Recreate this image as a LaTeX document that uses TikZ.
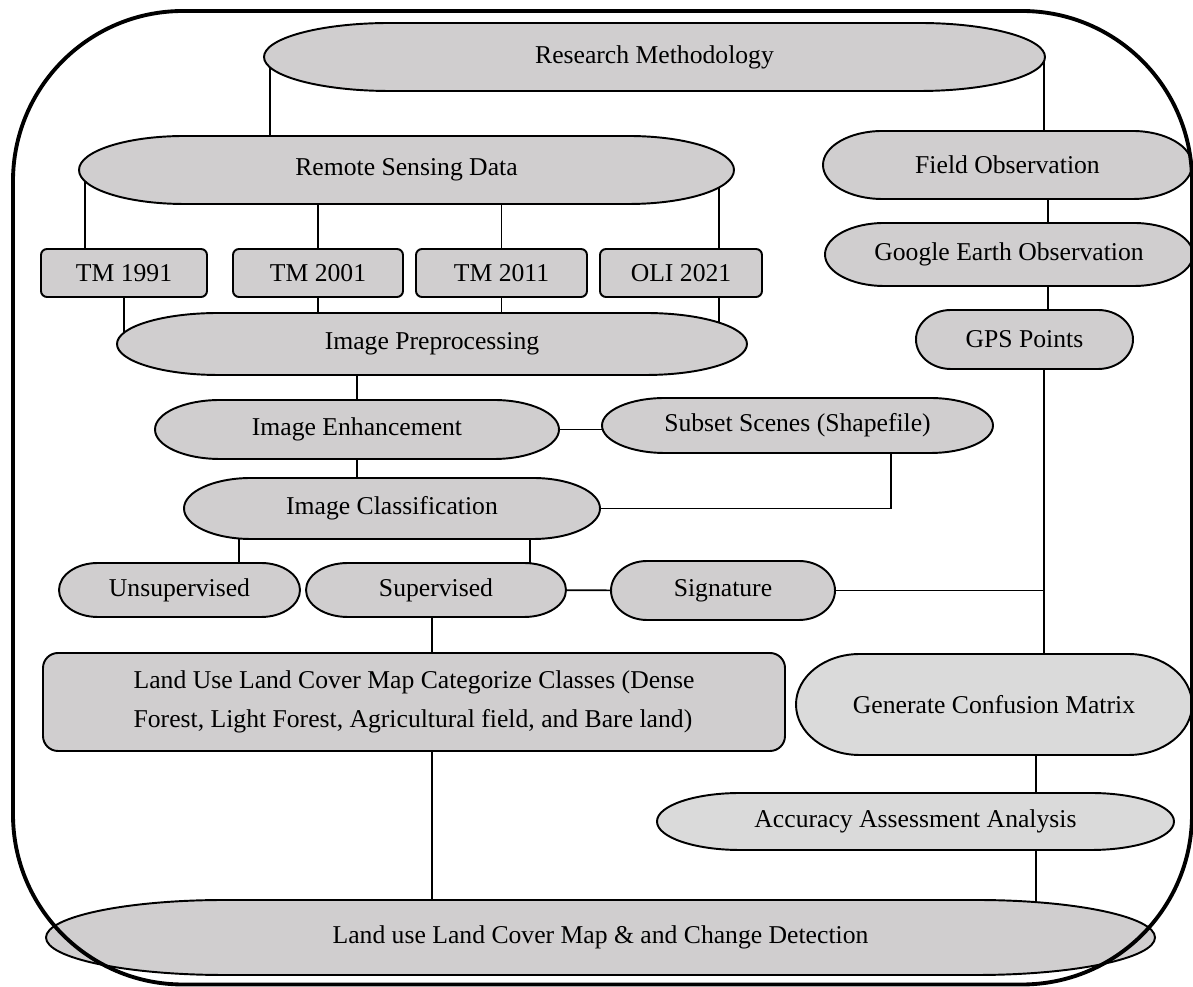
\documentclass[tikz,border=0pt]{standalone}
\usepackage{fontspec}
\setmainfont{Liberation Serif}
\usetikzlibrary{calc}

\pgfdeclarelayer{wires}
\pgfdeclarelayer{background}
\pgfsetlayers{wires,background,main}

\definecolor{boxgray}{RGB}{208,206,207}
\definecolor{boxlight}{RGB}{218,218,218}

% terminator outline round a named node: #1 node, #2 fill
\newcommand{\termshape}[2]{%
  \path[draw=black, line width=1.1pt, fill=#2]
    let \p1=(#1.south west), \p2=(#1.north east),
        \n1={0.161*(\x2-\x1)}, \n2={0.5*(\y2-\y1)} in
    ({\x1+\n1},\y2) -- ({\x2-\n1},\y2)
    arc[start angle=90, end angle=-90, x radius=\n1, y radius=\n2]
    -- ({\x1+\n1},\y1)
    arc[start angle=270, end angle=90, x radius=\n1, y radius=\n2]
    -- cycle;}

\begin{document}
\begin{tikzpicture}[
  every node/.style={font=\fontsize{14.6}{22}\selectfont, inner sep=0pt, outer sep=0pt},
  term/.style 2 args={minimum width=#1cm, minimum height=#2cm},
  rbox/.style={draw=black, line width=1.1pt, fill=boxgray, rounded corners=0.12cm},
  wire/.style={line width=0.9pt}
]
\useasboundingbox (0,0) rectangle (23.86,19.74);

%---------------------------------------------------
\node[term={15.62}{1.36}] (rm)  at (13.09,18.60) {Research Methodology};
\node[term={13.10}{1.36}] (rsd) at (8.13,16.34)  {Remote Sensing Data};
\node[term={7.38}{1.36}]  (fo)  at (20.15,16.44) {Field Observation};

\node[rbox, minimum width=3.32cm, minimum height=0.96cm] (tm1) at (2.48,14.28)  {TM 1991};
\node[rbox, minimum width=3.40cm, minimum height=0.96cm] (tm2) at (6.36,14.28)  {TM 2001};
\node[rbox, minimum width=3.42cm, minimum height=0.96cm] (tm3) at (10.03,14.28) {TM 2011};
\node[rbox, minimum width=3.24cm, minimum height=0.96cm] (oli) at (13.62,14.28) {OLI 2021};

\node[term={7.36}{1.26}]  (geo) at (20.18,14.65) {Google Earth Observation};
\node[term={4.34}{1.18}]  (gps) at (20.49,12.95) {GPS Points};
\node[term={12.60}{1.24}] (ip)  at (8.64,12.86)  {Image Preprocessing};

%---------------------------------------------------
\node[term={8.08}{1.18}] (ie)  at (7.14,11.15)  {Image Enhancement};
\node[term={7.82}{1.10}] (ss)  at (15.95,11.23) {Subset Scenes (Shapefile)};
\node[term={8.32}{1.22}] (ic)  at (7.84,9.57)   {Image Classification};
\node[term={4.82}{1.08}] (uns) at (3.59,7.94)   {Unsupervised};
\node[term={5.20}{1.08}] (sup) at (8.72,7.94)   {Supervised};
\node[term={4.48}{1.18}] (sig) at (14.46,7.93)  {Signature};

\node[rbox, rounded corners=0.3cm, minimum width=14.84cm, minimum height=1.96cm, align=left] (lulc) at (8.28,5.70)
  {Land Use Land Cover Map Categorize Classes (Dense\\Forest, Light Forest, Agricultural field, and Bare land)};
\node[term={7.92}{2.02}]  (gcm) at (19.88,5.65) {Generate Confusion Matrix};
\node[term={10.34}{1.14}] (aaa) at (18.31,3.31) {Accuracy Assessment Analysis};
\node[term={22.18}{1.50}] (lc)  at (12.01,0.99) {Land use Land Cover Map \& and Change Detection};

%---------------------------------------------------
\begin{pgfonlayer}{background}
\foreach \nm/\col in {rm/boxgray, rsd/boxgray, fo/boxgray, geo/boxgray, gps/boxgray,
  ip/boxgray, ie/boxgray, ss/boxgray, ic/boxgray, uns/boxgray, sup/boxgray,
  sig/boxgray, gcm/boxlight, aaa/boxlight, lc/boxgray}
  {\termshape{\nm}{\col}}
\end{pgfonlayer}

%---------------------------------------------------
\begin{pgfonlayer}{wires}
\draw[wire] ([xshift=0.12cm]rm.west) -- ([xshift=0.12cm]rm.west |- rsd.center);
\draw[wire] ([xshift=-0.02cm]rm.east) -- ([xshift=-0.02cm]rm.east |- fo.center);

\draw[wire] ([xshift=0.12cm]rsd.west) -- ([xshift=0.12cm]rsd.west |- tm1.center);
\draw[wire] (tm2.center |- rsd.center) -- (tm2.center);
\draw[wire] (tm3.center |- rsd.center) -- (tm3.center);
\draw[wire] ([xshift=-0.3cm]rsd.east) -- ([xshift=-0.3cm]rsd.east |- oli.center);

\draw[wire] (tm1.center) -- (tm1.center |- ip.center);
\draw[wire] (tm2.center) -- (tm2.center |- ip.center);
\draw[wire] (tm3.center) -- (tm3.center |- ip.center);
\draw[wire] ([xshift=-0.3cm]rsd.east |- oli.center) -- ([xshift=-0.3cm]rsd.east |- ip.center);

\draw[wire] (ip.center -| ie.center) -- (ie.center);
\draw[wire] (ie.center) -- (ie.center -| ss.center);
\draw[wire] ([xshift=1.87cm]ss.center) |- (ic.center);
\draw[wire] (ie.center) -- (ie.center |- ic.center);
\draw[wire] ([xshift=1.1cm]ic.west) -- ([xshift=1.1cm]ic.west |- uns.center);
\draw[wire] ([xshift=-1.4cm]ic.east) -- ([xshift=-1.4cm]ic.east |- sup.center);
\draw[wire] (sup.center) -- (sig.center);

\draw[wire] ([xshift=0.78cm]geo.center |- fo.center) -- ([xshift=0.78cm]geo.center);
\draw[wire] ([xshift=0.78cm]geo.center) -- ([xshift=0.78cm]geo.center |- gps.center);
\draw[wire] ([xshift=0.39cm]gps.center) -- ([xshift=0.39cm]gps.center |- gcm.center);
\draw[wire] (sig.center) -- ([xshift=0.39cm]gps.center |- sig.center);

\draw[wire] ([xshift=0.36cm]lulc.center |- sup.center) -- ([xshift=0.36cm]lulc.center);
\draw[wire] ([xshift=0.36cm]lulc.center) -- ([xshift=0.36cm]lulc.center |- lc.center);
\draw[wire] ([xshift=0.84cm]gcm.center) -- ([xshift=0.84cm]gcm.center |- aaa.center);
\draw[wire] ([xshift=0.84cm]gcm.center |- aaa.center) -- ([xshift=0.84cm]gcm.center |- lc.center);
\end{pgfonlayer}

%------------------------------------------------
\draw[line width=2.2pt, rounded corners=3.4cm] (0.26,0.05) rectangle (23.84,19.52);

\end{tikzpicture}
\end{document}
